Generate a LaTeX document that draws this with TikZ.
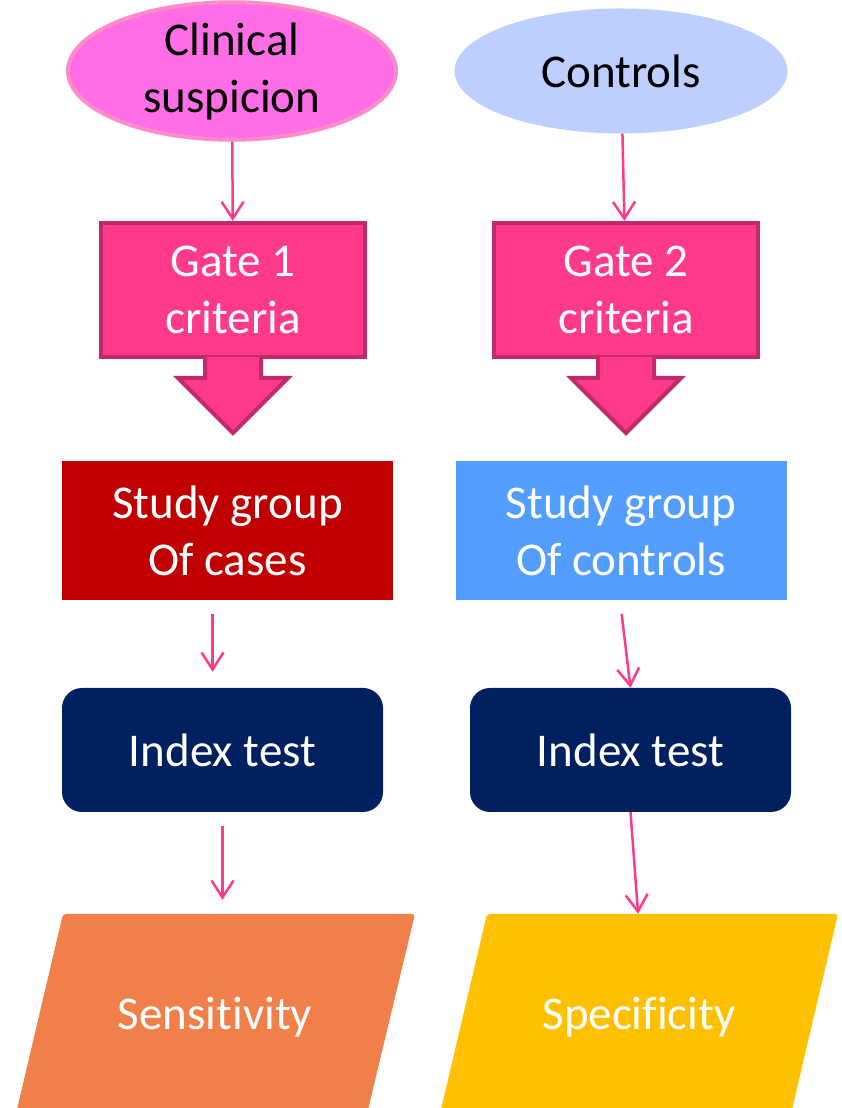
\documentclass[tikz,border=0pt]{standalone}
\usepackage{fontspec}
\setmainfont{Carlito}[Ligatures=NoCommon]
\usetikzlibrary{shapes.geometric,arrows.meta}
\definecolor{clinpink}{HTML}{FF6EE6}
\definecolor{clinedge}{HTML}{FF8CC6}
\definecolor{ctrlblue}{HTML}{BCCFFF}
\definecolor{gatepink}{HTML}{FF3A8A}
\definecolor{gateedge}{HTML}{C0296B}
\definecolor{linkpink}{HTML}{FF3A8C}
\definecolor{casered}{HTML}{C00000}
\definecolor{grpblue}{HTML}{539DFF}
\definecolor{indexnavy}{HTML}{002060}
\definecolor{sensorange}{HTML}{F07F49}
\definecolor{specyellow}{HTML}{FFC000}
\begin{document}
\begin{tikzpicture}[x=1pt,y=1pt,
    txt/.style={font=\fontsize{47}{57}\selectfont, align=center},
    link/.style={draw=linkpink, line width=2.5pt, -{Straight Barb[length=17pt,width=22pt]}},
    gatebox/.style={txt, text=white, draw=gateedge, fill=gatepink, line width=4pt, minimum width=264pt, minimum height=134pt, inner sep=0pt},
    gatehead/.style={draw=gateedge, fill=gatepink, line width=4pt, miter limit=4},
    groupbox/.style={txt, text=white, minimum width=331pt, minimum height=139pt, inner sep=0pt},
    indexbox/.style={txt, text=white, fill=indexnavy, rounded corners=20pt, minimum width=321pt, minimum height=124pt, inner sep=0pt},
    resultlabel/.style={txt, text=white, minimum width=300pt, minimum height=182pt, inner sep=0pt}]
    \useasboundingbox (0,0) rectangle (842,1108);
    % sources
    \node[ellipse, txt, draw=clinedge, line width=4pt, fill=clinpink, minimum width=328pt, minimum height=124pt, inner sep=0pt] (clin) at (232,1037) {Clinical\\suspicion};
    \node[ellipse, txt, fill=ctrlblue, minimum width=333pt, minimum height=125pt, inner sep=0pt] (ctrl) at (621,1037) {Controls};
    % gates
    \node[gatebox] (gate1) at (233,818) {Gate 1\\criteria};
    \node[gatebox] (gate2) at (626,818) {Gate 2\\criteria};
    \foreach \g in {gate1,gate2}
        \draw[gatehead] ([xshift=-28pt,yshift=2pt]\g.south) -- ++(0,-21) -- ++(-27,0) -- ++(55,-55) -- ++(55,55) -- ++(-27,0) -- ++(0,21);
    % study groups
    \node[groupbox, fill=casered] (cases) at (227.5,577.5) {Study group\\Of cases};
    \node[groupbox, fill=grpblue] (grp) at (621,577.5) {Study group\\Of controls};
    % index tests
    \node[indexbox] (index1) at (222.5,358) {Index test};
    \node[indexbox] (index2) at (630.5,358) {Index test};
    % results
    \fill[sensorange, rounded corners=3pt] (15,-10) -- (63,194) -- (415,194) -- (366,-10) -- cycle;
    \fill[specyellow, rounded corners=3pt] (439,-10) -- (487,194) -- (838,194) -- (790,-10) -- cycle;
    \node[resultlabel] (sens) at (215,91) {Sensitivity};
    \node[resultlabel] (spec) at (639,91) {Specificity};
    % connectors
    \draw[link] (clin) -- (gate1);
    \draw[link] (ctrl) -- (gate2);
    \draw[link, shorten <=14pt, shorten >=16pt] ([xshift=-15pt]cases.south) -- ([xshift=-15pt]cases.south |- index1.north);
    \draw[link, shorten <=14pt] ([xshift=-1pt]grp.south) -- (index2.north);
    \draw[link, shorten <=14pt, shorten >=26pt] (index1.south) -- (index1.south |- sens.north);
    \draw[link, shorten >=12pt] (index2.south) -- (spec.north);
\end{tikzpicture}
\end{document}
